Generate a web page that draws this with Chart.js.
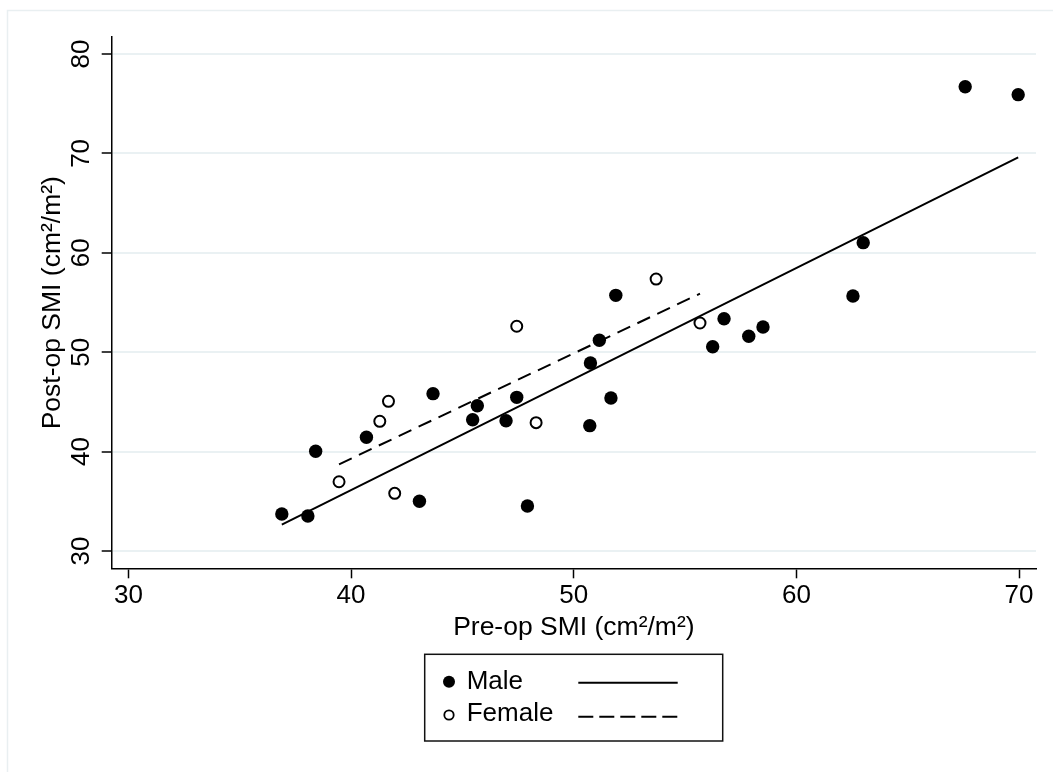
<!DOCTYPE html>
<html>
<head>
<meta charset="utf-8">
<script src="https://cdn.jsdelivr.net/npm/chart.js@4/dist/chart.umd.min.js"></script>
<style>
  html, body { margin: 0; padding: 0; background: #fff; }
  #wrap { width: 1053px; height: 772px; position: relative; }
</style>
</head>
<body>
<div id="wrap"><canvas id="chart"></canvas></div>
<script>
// values
const maleX = [36.89, 38.06, 38.41, 40.69, 43.07, 43.68, 45.46, 45.67, 46.96, 47.44, 47.92, 50.72,
               51.67, 51.89, 51.15, 50.75, 56.75, 56.24, 57.86, 58.50, 62.54, 63.00, 67.58, 69.96];
const maleY = [33.72, 33.52, 40.03, 41.44, 35.00, 45.83, 43.21, 44.62, 43.11, 45.46, 34.53, 42.61,
               45.39, 55.72, 51.20, 48.91, 53.37, 50.55, 51.60, 52.54, 55.65, 61.02, 76.71, 75.91];
const femaleX = [39.46, 41.29, 41.68, 41.96, 48.31, 47.44, 53.70, 55.67];
const femaleY = [36.97, 43.05, 45.06, 35.80, 42.91, 52.61, 57.36, 52.94];

// fitted lines, end points as drawn
const maleFitX = [36.89, 69.96];
const maleFitY = [32.65, 69.61];
const femaleFitX = [39.46, 55.67];
const femaleFitY = [38.72, 55.89];

const xTicks = [30, 40, 50, 60, 70];
const yTicks = [30, 40, 50, 60, 70, 80];
const xMin = 29.25, xMax = 70.76;
const yMin = 28.26, yMax = 81.69;

const legendLabels = ['Male', 'Female'];
const xTitle = 'Pre-op SMI (cm\u00b2/m\u00b2)';
const yTitle = 'Post-op SMI (cm\u00b2/m\u00b2)';

const FONT = '"Liberation Sans", Arial, Helvetica, sans-serif';
const toPoints = (xs, ys) => xs.map((x, i) => ({ x: x, y: ys[i] }));

const framePlugin = {
    id: 'frame',
    beforeDraw(chart) {
        const ctx = chart.ctx;
        ctx.save();
        ctx.fillStyle = '#fff';
        ctx.fillRect(0, 0, chart.width, chart.height);
        ctx.strokeStyle = '#e9eff1';
        ctx.lineWidth = 1.5;
        ctx.strokeRect(7.5, 10.5, chart.width + 20, chart.height + 20);
        ctx.restore();
    }
};

// rotated y tick labels and the boxed legend below the plot
const extrasPlugin = {
    id: 'extras',
    afterDraw(chart) {
        const ctx = chart.ctx;
        const ys = chart.scales.y;
        ctx.save();
        ctx.font = '26px ' + FONT;
        ctx.fillStyle = '#000';
        ctx.textAlign = 'center';
        ctx.textBaseline = 'middle';
        yTicks.forEach(v => {
            ctx.save();
            ctx.translate(82, ys.getPixelForValue(v));
            ctx.rotate(-Math.PI / 2);
            ctx.fillText(String(v), 0, 0);
            ctx.restore();
        });

        // legend box
        ctx.strokeStyle = '#111';
        ctx.lineWidth = 1.5;
        ctx.strokeRect(424.7, 654.3, 298, 86.7);

        const rows = [689, 721];
        ctx.textAlign = 'left';
        ctx.textBaseline = 'alphabetic';
        legendLabels.forEach((lab, i) => {
            ctx.fillText(lab, 466.7, rows[i]);
        });

        // markers
        ctx.beginPath();
        ctx.arc(449, 681.7, 6, 0, Math.PI * 2);
        ctx.fillStyle = '#000';
        ctx.fill();
        ctx.beginPath();
        ctx.arc(449, 715, 4.7, 0, Math.PI * 2);
        ctx.fillStyle = '#fff';
        ctx.fill();
        ctx.lineWidth = 1.8;
        ctx.strokeStyle = '#000';
        ctx.stroke();

        // line samples
        ctx.lineWidth = 2;
        ctx.beginPath();
        ctx.moveTo(578.3, 682.7);
        ctx.lineTo(677.7, 682.7);
        ctx.stroke();
        ctx.setLineDash([15, 6]);
        ctx.beginPath();
        ctx.moveTo(578.3, 716.7);
        ctx.lineTo(677.7, 716.7);
        ctx.stroke();
        ctx.restore();
    }
};

const ctx = document.getElementById('chart').getContext('2d');
new Chart(ctx, {
    type: 'scatter',
    data: {
        datasets: [{
            type: 'line',
            label: 'Male fit',
            data: toPoints(maleFitX, maleFitY),
            borderColor: '#000',
            borderWidth: 2,
            pointRadius: 0,
            fill: false
        }, {
            type: 'line',
            label: 'Female fit',
            data: toPoints(femaleFitX, femaleFitY),
            borderColor: '#000',
            borderWidth: 2,
            borderDash: [14, 8],
            pointRadius: 0,
            fill: false
        }, {
            label: 'Male',
            data: toPoints(maleX, maleY),
            backgroundColor: '#000',
            borderWidth: 0,
            pointRadius: 6.7
        }, {
            label: 'Female',
            data: toPoints(femaleX, femaleY),
            backgroundColor: '#fff',
            borderColor: '#000',
            borderWidth: 2,
            pointRadius: 5.5
        }]
    },
    options: {
        responsive: true,
        maintainAspectRatio: false,
        animation: false,
        layout: {
            padding: { left: 0, top: 37.2, right: 17, bottom: 123.7 }
        },
        plugins: {
            legend: { display: false },
            tooltip: { enabled: false }
        },
        scales: {
            x: {
                type: 'linear',
                min: xMin,
                max: xMax,
                afterBuildTicks: s => { s.ticks = xTicks.map(v => ({ value: v })); },
                afterFit: s => { s.height = 80; },
                grid: {
                    drawOnChartArea: false,
                    tickLength: 10,
                    tickColor: '#000',
                    tickWidth: 1.5
                },
                border: { color: '#000', width: 1.5 },
                ticks: {
                    color: '#000',
                    font: { family: FONT, size: 26 },
                    padding: 2,
                    maxRotation: 0
                },
                title: {
                    display: true,
                    text: xTitle,
                    color: '#000',
                    font: { family: FONT, size: 26.5 },
                    padding: { top: 0, bottom: 4.7 }
                }
            },
            y: {
                type: 'linear',
                min: yMin,
                max: yMax,
                afterBuildTicks: s => { s.ticks = yTicks.map(v => ({ value: v })); },
                afterFit: s => { s.width = 111.7; },
                grid: {
                    color: '#eaf1f3',
                    lineWidth: 2,
                    tickLength: 10,
                    tickColor: '#000',
                    tickWidth: 1.5
                },
                border: { color: '#000', width: 1.5 },
                ticks: { display: false },
                title: {
                    display: true,
                    text: yTitle,
                    color: '#000',
                    font: { family: FONT, size: 26.5 },
                    padding: { top: 37, bottom: 0 }
                }
            }
        }
    },
    plugins: [framePlugin, extrasPlugin]
});
</script>
</body>
</html>
